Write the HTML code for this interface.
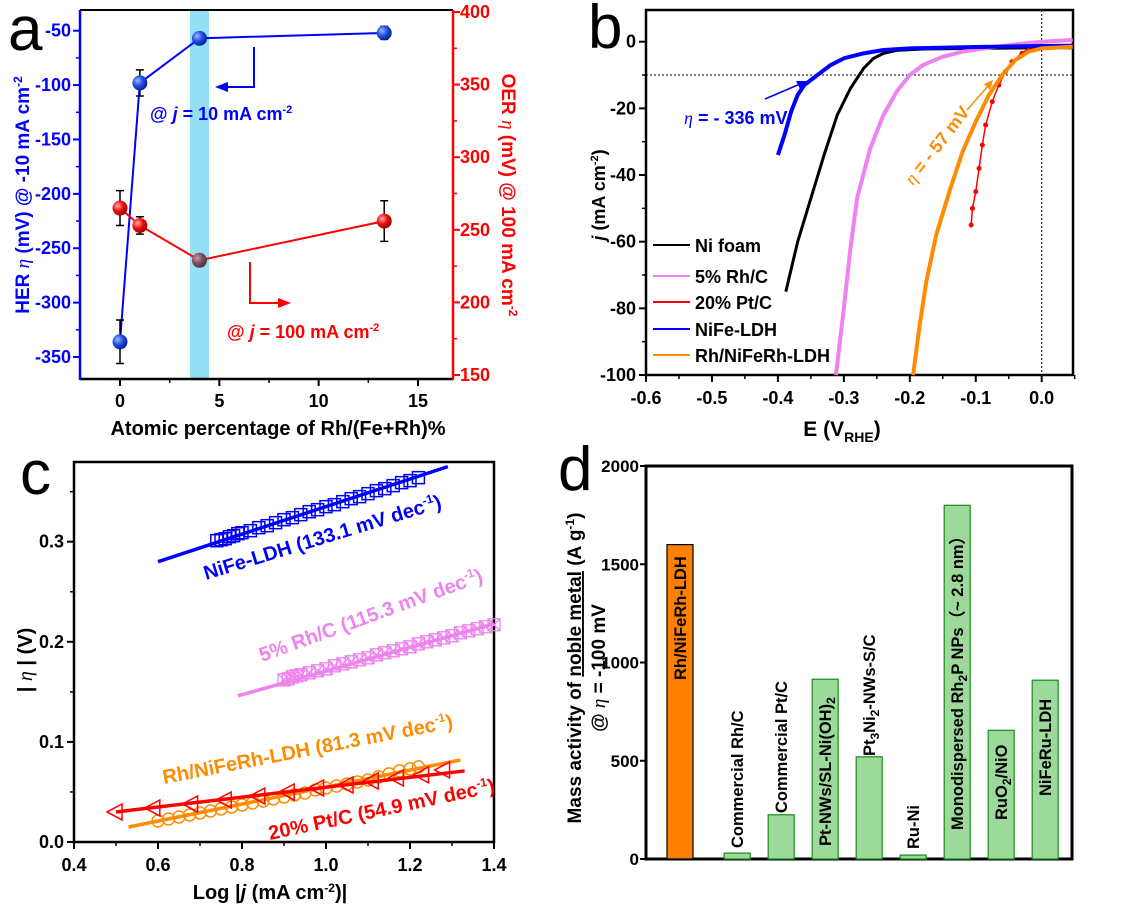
<!DOCTYPE html>
<html><head><meta charset="utf-8"><style>
html,body{margin:0;padding:0;background:#fff;}
svg{display:block;font-family:"Liberation Sans",Arial,sans-serif;font-weight:bold;}
</style></head><body>
<svg id="fig" width="1127" height="912" viewBox="0 0 1127 912" xmlns="http://www.w3.org/2000/svg">
<defs>
<radialGradient id="gb" cx="0.35" cy="0.35" r="0.7"><stop offset="0" stop-color="#9fb8ff"/><stop offset="0.5" stop-color="#1f4fe0"/><stop offset="1" stop-color="#0a1a90"/></radialGradient>
<radialGradient id="gr" cx="0.35" cy="0.35" r="0.7"><stop offset="0" stop-color="#ffb0b0"/><stop offset="0.5" stop-color="#f01010"/><stop offset="1" stop-color="#900000"/></radialGradient>
<radialGradient id="gg" cx="0.35" cy="0.35" r="0.7"><stop offset="0" stop-color="#c0a0b0"/><stop offset="0.5" stop-color="#8a4a60"/><stop offset="1" stop-color="#503040"/></radialGradient>
</defs>
<text x="8" y="50" font-size="62" font-weight="normal">a</text>
<text x="588" y="48" font-size="62" font-weight="normal">b</text>
<text x="20" y="494" font-size="62" font-weight="normal">c</text>
<text x="558" y="490" font-size="62" font-weight="normal">d</text>

<g id="pa">
<rect x="190" y="10" width="19" height="369" fill="#93e0f5"/>
<line x1="80" y1="10" x2="453" y2="10" stroke="#000" stroke-width="2"/>
<line x1="80" y1="379" x2="453" y2="379" stroke="#000" stroke-width="2.5"/>
<line x1="80" y1="10" x2="80" y2="380" stroke="#0000ff" stroke-width="2.5"/>
<line x1="453" y1="10" x2="453" y2="380" stroke="#ff0000" stroke-width="2.5"/>
<text x="278" y="435" font-size="20" text-anchor="middle">Atomic percentage of Rh/(Fe+Rh)%</text>
<text transform="translate(29,195) rotate(-90)" font-size="19" fill="#0000ff" text-anchor="middle">HER <tspan font-style="italic" font-weight="normal" font-family="Liberation Serif">η</tspan> (mV) @ -10 mA cm<tspan dy="-7" font-size="12">-2</tspan></text>
<text transform="translate(502,195) rotate(90)" font-size="19" fill="#ff0000" text-anchor="middle">OER <tspan font-style="italic" font-weight="normal" font-family="Liberation Serif">η</tspan> (mV) @ 100 mA cm<tspan dy="-7" font-size="12">-2</tspan></text>
<polyline points="254,47 254,87 222,87" fill="none" stroke="#0000ff" stroke-width="2"/>
<polygon points="215,87 228,82 228,92" fill="#0000ff"/>
<text x="150" y="120" font-size="18" fill="#0000ff">@ <tspan font-style="italic">j</tspan> = 10 mA cm<tspan dy="-7" font-size="11">-2</tspan></text>
<polyline points="250,262 250,303 283,303" fill="none" stroke="#ff0000" stroke-width="2"/>
<polygon points="291,303 278,298 278,308" fill="#ff0000"/>
<text x="227" y="338" font-size="18" fill="#ff0000">@ <tspan font-style="italic">j</tspan> = 100 mA cm<tspan dy="-7" font-size="11">-2</tspan></text>
</g>

<g id="pb">
<rect x="646" y="10" width="427" height="365" fill="none" stroke="#000" stroke-width="2.5"/>
<text transform="translate(605,195) rotate(-90)" font-size="18" text-anchor="middle"><tspan font-style="italic">j</tspan> (mA cm<tspan dy="-7" font-size="11">-2</tspan><tspan dy="7">)</tspan></text>
<text x="842" y="436" font-size="21" text-anchor="middle">E (V<tspan dy="6" font-size="14">RHE</tspan><tspan dy="-6">)</tspan></text>
<line x1="765" y1="99" x2="800" y2="84" stroke="#0000ff" stroke-width="1.5"/>
<polygon points="806,81 796,81 800,89" fill="#0000ff"/>
<text x="684" y="124" font-size="18" fill="#0000ff"><tspan font-style="italic" font-weight="normal" font-family="Liberation Serif">η</tspan> = - 336 mV</text>
<line x1="967" y1="110" x2="988" y2="86" stroke="#ff8c00" stroke-width="1.5"/>
<polygon points="993,80 984,84 990,90" fill="#ff8c00"/>
<text transform="translate(913,186) rotate(-52)" font-size="18" fill="#ff8c00"><tspan font-style="italic" font-weight="normal" font-family="Liberation Serif">η</tspan> = - 57 mV</text>
</g>

<g id="pc">
<rect x="74" y="462" width="420" height="380" fill="none" stroke="#000" stroke-width="2.5"/>
<text transform="translate(32,660) rotate(-90)" font-size="20" text-anchor="middle">| <tspan font-style="italic" font-weight="normal" font-family="Liberation Serif">η</tspan> | (V)</text>
<text x="270" y="899" font-size="20" text-anchor="middle">Log |<tspan font-style="italic">j</tspan> (mA cm<tspan dy="-7" font-size="12">-2</tspan><tspan dy="7">)|</tspan></text>
<text transform="translate(206,580) rotate(-17)" font-size="20" fill="#0000ff">NiFe-LDH (133.1 mV dec<tspan dy="-8" font-size="12">-1</tspan><tspan dy="8">)</tspan></text>
<text transform="translate(262,662) rotate(-20)" font-size="20" fill="#ee82ee">5% Rh/C  (115.3 mV dec<tspan dy="-8" font-size="12">-1</tspan><tspan dy="8">)</tspan></text>
<text transform="translate(164,784) rotate(-11)" font-size="20" fill="#ff8c00">Rh/NiFeRh-LDH (81.3 mV dec<tspan dy="-8" font-size="12">-1</tspan><tspan dy="8">)</tspan></text>
<text transform="translate(270,840) rotate(-12)" font-size="20" fill="#ff0000">20% Pt/C (54.9 mV dec<tspan dy="-8" font-size="12">-1</tspan><tspan dy="8">)</tspan></text>
</g>

<g id="pd">
<rect x="646" y="466" width="426" height="393" fill="none" stroke="#000" stroke-width="3"/>
<text transform="translate(581,668) rotate(-90)" font-size="19" text-anchor="middle">Mass activity of <tspan text-decoration="underline">noble metal</tspan> (A g<tspan dy="-7" font-size="12">-1</tspan><tspan dy="7">)</tspan></text>
<text transform="translate(605,668) rotate(-90)" font-size="19" text-anchor="middle">@ <tspan font-style="italic" font-weight="normal" font-family="Liberation Serif">η</tspan> = -100 mV</text>
</g>
</svg>
<script>
// ===== Panel a data =====
const aX = [0, 1, 4, 13.3];
const aHer = [-336, -98, -57, -52];
const aHerErr = [20, 12, 5, 6];
const aOer = [265, 253, 229, 256];
const aOerErr = [12, 6, 4, 14];
const aXTicks = [0, 5, 10, 15];
const aLeftTicks = [-50, -100, -150, -200, -250, -300, -350];
const aRightTicks = [150, 200, 250, 300, 350, 400];

// ===== Panel b data =====
const bXTicks = [-0.6, -0.5, -0.4, -0.3, -0.2, -0.1, 0.0];
const bYTicks = [0, -20, -40, -60, -80, -100];
const bNames = ["Ni foam", "5% Rh/C", "20% Pt/C", "NiFe-LDH", "Rh/NiFeRh-LDH"];
const bNiE = [-0.388,-0.37,-0.35,-0.33,-0.31,-0.29,-0.27,-0.255,-0.24,-0.22,-0.18,-0.1,0,0.047];
const bNiJ = [-75,-60,-47,-34,-22,-14,-8,-5,-3.5,-2.6,-2.2,-2,-1.8,-1.8];
const bRhcE = [-0.312,-0.30,-0.29,-0.28,-0.26,-0.24,-0.22,-0.20,-0.18,-0.15,-0.12,-0.08,-0.04,0,0.047];
const bRhcJ = [-100,-80,-62,-47,-32,-22,-15,-10,-7,-4.5,-3,-1.8,-0.8,0,0.5];
const bPtE = [-0.107,-0.105,-0.1,-0.095,-0.09,-0.085,-0.075,-0.065,-0.055,-0.045,-0.03,-0.02,0,0.047];
const bPtJ = [-55,-50,-45,-38,-31,-25,-18,-13,-9,-6,-3.5,-2,-1.2,-0.8];
const bNifE = [-0.4,-0.39,-0.38,-0.37,-0.36,-0.34,-0.32,-0.30,-0.27,-0.24,-0.2,-0.1,0,0.047];
const bNifJ = [-34,-28,-21,-16,-13,-10,-7,-5,-3.5,-2.5,-2,-1.6,-1.3,-1.2];
const bRhE = [-0.195,-0.185,-0.175,-0.16,-0.14,-0.12,-0.10,-0.08,-0.06,-0.04,-0.02,0,0.047];
const bRhJ = [-100,-85,-72,-58,-45,-33,-24,-16,-10,-5.5,-3,-2,-1.5];
const bRefJ = -10;
const bRefE = 0;

// ===== Panel c data =====
const cXTicks = [0.4, 0.6, 0.8, 1.0, 1.2, 1.4];
const cYTicks = [0.0, 0.1, 0.2, 0.3];
const cNifX = [0.74,0.75,0.76,0.77,0.78,0.79,0.80,0.82,0.84,0.86,0.88,0.90,0.92,0.94,0.96,0.98,1.00,1.02,1.04,1.06,1.08,1.10,1.12,1.14,1.16,1.18,1.20,1.22];
const cNifY = [.301,.302,.303,.305,.306,.308,.309,.311,.314,.316,.319,.322,.324,.327,.330,.332,.335,.337,.340,.343,.345,.348,.351,.353,.356,.359,.361,.364];
const cNifFitX = [0.6, 1.29];
const cNifFitY = [0.280, 0.375];
const cRhcX = [0.90,0.91,0.92,0.93,0.94,0.96,0.98,1.00,1.02,1.04,1.06,1.08,1.10,1.12,1.14,1.16,1.18,1.20,1.22,1.24,1.26,1.28,1.30,1.32,1.34,1.36,1.38,1.40];
const cRhcY = [.162,.163,.165,.166,.167,.169,.171,.173,.176,.178,.180,.182,.184,.187,.189,.191,.193,.195,.198,.200,.202,.204,.206,.209,.211,.213,.215,.217];
const cRhcFitX = [0.79, 1.40];
const cRhcFitY = [0.146, 0.218];
const cRhX = [0.6,0.625,0.65,0.675,0.7,0.725,0.75,0.775,0.8,0.825,0.85,0.875,0.9,0.925,0.95,0.975,1.0,1.025,1.05,1.075,1.1,1.125,1.15,1.175,1.2,1.22];
const cRhY = [.021,.023,.025,.027,.029,.031,.033,.035,.037,.039,.041,.043,.045,.047,.049,.052,.054,.056,.058,.060,.062,.065,.068,.071,.073,.075];
const cRhFitX = [0.53, 1.32];
const cRhFitY = [0.015, 0.082];
const cPtX = [0.5,0.59,0.68,0.76,0.84,0.91,0.98,1.05,1.11,1.17,1.23,1.28];
const cPtY = [.030,.034,.038,.042,.046,.050,.054,.057,.061,.064,.067,.072];
const cPtFitX = [0.5, 1.33];
const cPtFitY = [0.030, 0.071];

// ===== Panel d data =====
const dCats = ["Rh/NiFeRh-LDH","Commercial Rh/C","Commercial Pt/C","Pt-NWs/SL-Ni(OH)2","Pt3Ni2-NWs-S/C","Ru-Ni","Monodispersed Rh2P NPs (~ 2.8 nm)","RuO2/NiO","NiFeRu-LDH"];
const dVals = [1600, 30, 225, 915, 520, 20, 1800, 655, 910];
const dYTicks = [0, 500, 1000, 1500, 2000];

const NS = "http://www.w3.org/2000/svg";
function lin(d0,d1,r0,r1){return v=>r0+(v-d0)*(r1-r0)/(d1-d0);}
function mk(tag, attrs, parent){const e=document.createElementNS(NS,tag);for(const k in attrs)e.setAttribute(k,attrs[k]);parent.appendChild(e);return e;}
function fmt(v,d){return v.toFixed(d);}

// ---------- Panel a ----------
(function(){
const g=document.getElementById('pa');
const x=lin(0,15,120,418), yl=lin(-50,-350,30.7,357), yr=lin(400,150,12,375);
aXTicks.forEach(t=>{
  const l=mk('line',{x1:x(t),y1:379,x2:x(t),y2:386,stroke:'#000','stroke-width':2},g);
  
  
  const tx=mk('text',{x:x(t),y:407,'font-size':18,'text-anchor':'middle'},g);tx.textContent=t;
  
  
});
[2.5,7.5,12.5].forEach(t=>{const l=mk('line',{x1:x(t),y1:379,x2:x(t),y2:383,stroke:'#000','stroke-width':1.5},g);
  
  });
aLeftTicks.forEach(t=>{
  const l=mk('line',{x1:73,y1:yl(t),x2:80,y2:yl(t),stroke:'#0000ff','stroke-width':2},g);
  
  
  if(t>-350){const m=mk('line',{x1:76,y1:yl(t-25),x2:80,y2:yl(t-25),stroke:'#0000ff','stroke-width':1.5},g);
  
  }
  const tx=mk('text',{x:71,y:yl(t)+6,'font-size':18,'text-anchor':'end',fill:'#0000ff'},g);tx.textContent=t;
  
  
});
aRightTicks.forEach(t=>{
  const l=mk('line',{x1:453,y1:yr(t),x2:460,y2:yr(t),stroke:'#ff0000','stroke-width':2},g);
  
  
  if(t<400){const m=mk('line',{x1:453,y1:yr(t+25),x2:457,y2:yr(t+25),stroke:'#ff0000','stroke-width':1.5},g);
  
  }
  const tx=mk('text',{x:460,y:yr(t)+6,'font-size':18,fill:'#ff0000'},g);tx.textContent=t;
  
  
});
const bl=mk('polyline',{points:aX.map((v,i)=>x(v)+','+yl(aHer[i])).join(' '),fill:'none',stroke:'#0000ff','stroke-width':2},g);


const rl=mk('polyline',{points:aX.map((v,i)=>x(v)+','+yr(aOer[i])).join(' '),fill:'none',stroke:'#ff0000','stroke-width':2},g);


aX.forEach((v,i)=>{
  const cx=x(v);
  [[yl,aHer[i],aHerErr[i],'her'],[yr,aOer[i],aOerErr[i],'oer']].forEach(([s,val,err,nm])=>{
    const y0=s(val+err), y1=s(val-err);
    const eb=mk('path',{d:`M${cx},${y0}V${y1}M${cx-4},${y0}h8M${cx-4},${y1}h8`,stroke:'#000','stroke-width':1.5,fill:'none'},g);
    
    
    const fillId = (nm==='oer' && v===4)?'url(#gg)':(nm==='her'?'url(#gb)':'url(#gr)');
    const c=mk('circle',{cx:cx,cy:s(val),r:7.5,fill:fillId},g);
    
    
  });
});
})();

// ---------- Panel b ----------
(function(){
const g=document.getElementById('pb');
const x=lin(-0.6,0,646,1041.7), y=lin(0,-100,41.7,375);
bXTicks.forEach(t=>{
  const l=mk('line',{x1:x(t),y1:375,x2:x(t),y2:382,stroke:'#000','stroke-width':2},g);
  
  
  const m=mk('line',{x1:x(t+0.05),y1:375,x2:x(t+0.05),y2:379,stroke:'#000','stroke-width':1.5},g);
  
  
  const tx=mk('text',{x:x(t),y:404,'font-size':18,'text-anchor':'middle'},g);tx.textContent=fmt(t,1);
  
  
});
bYTicks.forEach(t=>{
  const l=mk('line',{x1:639,y1:y(t),x2:646,y2:y(t),stroke:'#000','stroke-width':2},g);
  
  
  if(t>-100){const m=mk('line',{x1:642,y1:y(t-10),x2:646,y2:y(t-10),stroke:'#000','stroke-width':1.5},g);
  
  }
  const tx=mk('text',{x:636,y:y(t)+6,'font-size':18,'text-anchor':'end'},g);tx.textContent=t;
  
  
});
const hr=mk('line',{x1:646,y1:y(bRefJ),x2:1073,y2:y(bRefJ),stroke:'#000','stroke-width':1,'stroke-dasharray':'2,2'},g);


const vr=mk('line',{x1:x(bRefE),y1:10,x2:x(bRefE),y2:375,stroke:'#000','stroke-width':1,'stroke-dasharray':'2,2'},g);


const series=[[bNiE,bNiJ,'#000000'],[bRhcE,bRhcJ,'#ee82ee'],[bPtE,bPtJ,'#ff0000'],[bNifE,bNifJ,'#0000ff'],[bRhE,bRhJ,'#ff8c00']];
const names=['ni-foam','rh-c','pt-c','nife-ldh','rh-nifefrh-ldh'];
series.forEach(([E,J,c],k)=>{
  const w = (k===2)?1.5:(k===0?3:4);
  const p=mk('polyline',{points:E.map((v,i)=>x(v)+','+y(J[i])).join(' '),fill:'none',stroke:c,'stroke-width':w,'stroke-linejoin':'round'},g);
  
  
  if(k===2){E.forEach((v,i)=>{if(i<11){const d=mk('circle',{cx:x(v),cy:y(J[i]),r:2.5,fill:c},g);
    
    }});}
  const ly=245+[0,31,57,84,110][k];
  const ll=mk('line',{x1:653,y1:ly,x2:690,y2:ly,stroke:c,'stroke-width':2},g);
  
  
  const lt=mk('text',{x:695,y:ly+7,'font-size':18},g);lt.textContent=bNames[k];
  
  
});
})();

// ---------- Panel c ----------
(function(){
const g=document.getElementById('pc');
const x=lin(0.4,1.4,74,494), y=lin(0,0.3,842,541.7);
cXTicks.forEach(t=>{
  const l=mk('line',{x1:x(t),y1:842,x2:x(t),y2:849,stroke:'#000','stroke-width':2},g);
  
  
  if(t<1.4){const m=mk('line',{x1:x(t+0.1),y1:842,x2:x(t+0.1),y2:846,stroke:'#000','stroke-width':1.5},g);
  
  }
  const tx=mk('text',{x:x(t),y:871,'font-size':18,'text-anchor':'middle'},g);tx.textContent=fmt(t,1);
  
  
});
cYTicks.forEach(t=>{
  const l=mk('line',{x1:67,y1:y(t),x2:74,y2:y(t),stroke:'#000','stroke-width':2},g);
  
  
  const m=mk('line',{x1:70,y1:y(t+0.05),x2:74,y2:y(t+0.05),stroke:'#000','stroke-width':1.5},g);
  
  
  const tx=mk('text',{x:64,y:y(t)+6,'font-size':18,'text-anchor':'end'},g);tx.textContent=fmt(t,1);
  
  
});
const sets=[[cNifX,cNifY,cNifFitX,cNifFitY,'#0000ff','sq','nife'],[cRhcX,cRhcY,cRhcFitX,cRhcFitY,'#ee82ee','sqx','rh-c'],[cRhX,cRhY,cRhFitX,cRhFitY,'#ff8c00','ci','rh-nifefrh'],[cPtX,cPtY,cPtFitX,cPtFitY,'#ff0000','tri','pt-c']];
sets.forEach(([X,Y,FX,FY,c,shape,nm])=>{
  X.forEach((v,i)=>{
    const px=x(v), py=y(Y[i]);
    let e;
    if(shape==='sq'){e=mk('rect',{x:px-6,y:py-6,width:12,height:12,fill:'none',stroke:c,'stroke-width':1.5},g);}
    else if(shape==='sqx'){e=mk('path',{d:`M${px-6},${py-6}h12v12h-12zM${px-6},${py-6}L${px+6},${py+6}M${px+6},${py-6}L${px-6},${py+6}`,fill:'none',stroke:c,'stroke-width':1.3},g);}
    else if(shape==='ci'){e=mk('circle',{cx:px,cy:py,r:6,fill:'none',stroke:c,'stroke-width':1.5},g);}
    else {e=mk('polygon',{points:`${px-9},${py} ${px+6},${py-8} ${px+6},${py+8}`,fill:'none',stroke:c,'stroke-width':1.5},g);}
    
    
  });
  const f=mk('line',{x1:x(FX[0]),y1:y(FY[0]),x2:x(FX[1]),y2:y(FY[1]),stroke:c,'stroke-width':3.5},g);
  
  
});
})();

// ---------- Panel d ----------
(function(){
const g=document.getElementById('pd');
const y=lin(0,2000,859,466);
const xc=lin(0,1,680,724);
const pos=i=>xc(i===0?0:i+0.3);
dYTicks.forEach(t=>{
  const l=mk('line',{x1:640,y1:y(t),x2:646,y2:y(t),stroke:'#000','stroke-width':2},g);
  
  
  const tx=mk('text',{x:639,y:y(t)+6,'font-size':17,'text-anchor':'end'},g);tx.textContent=t;
  
  
});
const labelHTML=[
 'Rh/NiFeRh-LDH','Commercial Rh/C','Commercial Pt/C',
 'Pt-NWs/SL-Ni(OH)<tspan dy="4" font-size="12">2</tspan>',
 'Pt<tspan dy="4" font-size="12">3</tspan><tspan dy="-4">Ni</tspan><tspan dy="4" font-size="12">2</tspan><tspan dy="-4">-NWs-S/C</tspan>',
 'Ru-Ni',
 'Monodispersed Rh<tspan dy="4" font-size="12">2</tspan><tspan dy="-4">P NPs（~ 2.8 nm）</tspan>',
 'RuO<tspan dy="4" font-size="12">2</tspan><tspan dy="-4">/NiO</tspan>',
 'NiFeRu-LDH'];
const inside=[true,false,false,true,false,false,true,true,true];
dCats.forEach((c,i)=>{
  const cx=pos(i), top=y(dVals[i]);
  const r=mk('rect',{x:cx-13,y:top,width:26,height:859-top,fill:i===0?'#ff8000':'#9ed99c',stroke:i===0?'#000':'#1a8a1a','stroke-width':1.2},g);
  
  
  const ty = inside[i] ? ([680,0,0,846,0,0,830,820,796][i]) : (i===1?848:i===2?813:i===4?756:849);
  const t=mk('text',{transform:`translate(${cx+6},${ty}) rotate(-90)`,'font-size':16.5},g);
  t.innerHTML=labelHTML[i];
  
  
});
})();
</script>
</body></html>
